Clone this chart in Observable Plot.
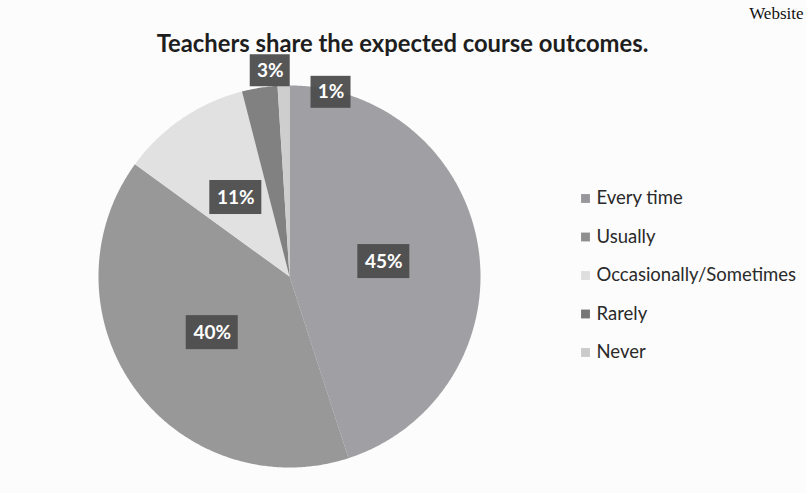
<!DOCTYPE html>
<html>
<head>
<meta charset="utf-8">
<script src="https://cdn.jsdelivr.net/npm/d3@7"></script>
<script src="https://cdn.jsdelivr.net/npm/@observablehq/plot@0.6"></script>
<style>
  html, body { margin: 0; padding: 0; background: #fcfcfc; }
  #chart svg { display: block; }
</style>
</head>
<body>
<div id="chart"></div>
<script>
// ---- data ----
const categories = ["Every time", "Usually", "Occasionally/Sometimes", "Rarely", "Never"];
const values = [45, 40, 11, 3, 1];
const labels = ["45%", "40%", "11%", "3%", "1%"];
const title = "Teachers share the expected course outcomes.";
const corner = "Website";

// ---- layout / style ----
const W = 806, H = 493;
const cx = 289, cy = 276, R = 191;
const colors = ["#98989c", "#8f8f8f", "#dedede", "#767676", "#cacaca"];
const nudge = {"Rarely": [13, -2], "Never": [48, 22]};

const arcs = d3.pie().sort(null).value(d => d.value)(categories.map((c, i) => ({cat: c, value: values[i], label: labels[i]})));

// polygon points for each slice
const poly = [];
arcs.forEach(a => {
  poly.push({cat: a.data.cat, x: cx, y: cy});
  const n = Math.max(2, Math.ceil((a.endAngle - a.startAngle) / (Math.PI / 360)));
  for (let k = 0; k <= n; k++) {
    const t = a.startAngle + (a.endAngle - a.startAngle) * k / n;
    poly.push({cat: a.data.cat, x: cx + R * Math.sin(t), y: cy - R * Math.cos(t)});
  }
  poly.push({cat: a.data.cat, x: cx, y: cy});
});

// label boxes
const lab = arcs.map(a => {
  const mid = (a.startAngle + a.endAngle) / 2;
  const r = a.data.value >= 5 ? 0.5 * R : 1.08 * R;
  const [dx, dy] = nudge[a.data.cat] || [0, 0];
  const x = cx + r * Math.sin(mid) + dx;
  const y = cy - r * Math.cos(mid) + dy;
  const bw = a.data.label.length >= 3 ? 52 : 40;
  const bh = a.data.label.length >= 3 ? 34 : 32;
  return {label: a.data.label, x, y, x1: x - bw / 2, x2: x + bw / 2, y1: y - bh / 2, y2: y + bh / 2};
});

// legend rows
const legX = 585, legY0 = 198, legStep = 38.5;
const leg = categories.map((c, i) => ({cat: c, x: legX, y: legY0 + i * legStep}));

const plot = Plot.plot({
  width: W,
  height: H,
  margin: 0,
  x: {domain: [0, W], range: [0, W], axis: null},
  y: {domain: [0, H], range: [0, H], axis: null},
  color: {domain: categories, range: colors},
  style: {background: "#fcfcfc", fontFamily: "Lato, 'Open Sans', sans-serif"},
  marks: [
    Plot.line(poly, {x: "x", y: "y", z: "cat", fill: "cat", fillOpacity: 0.92, stroke: "none", curve: "linear"}),
    Plot.rect(lab, {x1: "x1", x2: "x2", y1: "y1", y2: "y2", fill: "#4d4d4d", fillOpacity: 0.95}),
    Plot.text(lab, {x: "x", y: "y", text: "label", fill: "white", fontSize: 19, fontWeight: "bold"}),
    Plot.text([title], {x: () => 402, y: () => 44, text: d => d, fontSize: 23.8, fontWeight: "bold", fill: "#1e1e1e"}),
    Plot.text([corner], {x: () => 803, y: () => 13, text: d => d, textAnchor: "end", fontSize: 17, fontFamily: "'Liberation Serif', serif", fill: "#111"}),
    Plot.dot(leg, {x: "x", y: "y", fill: "cat", symbol: "square", r: 5}),
    Plot.text(leg, {x: d => d.x + 11, y: "y", text: "cat", textAnchor: "start", fontSize: 18.5, fill: "#2a2a2a"})
  ]
});
document.getElementById("chart").appendChild(plot);
</script>
</body>
</html>
